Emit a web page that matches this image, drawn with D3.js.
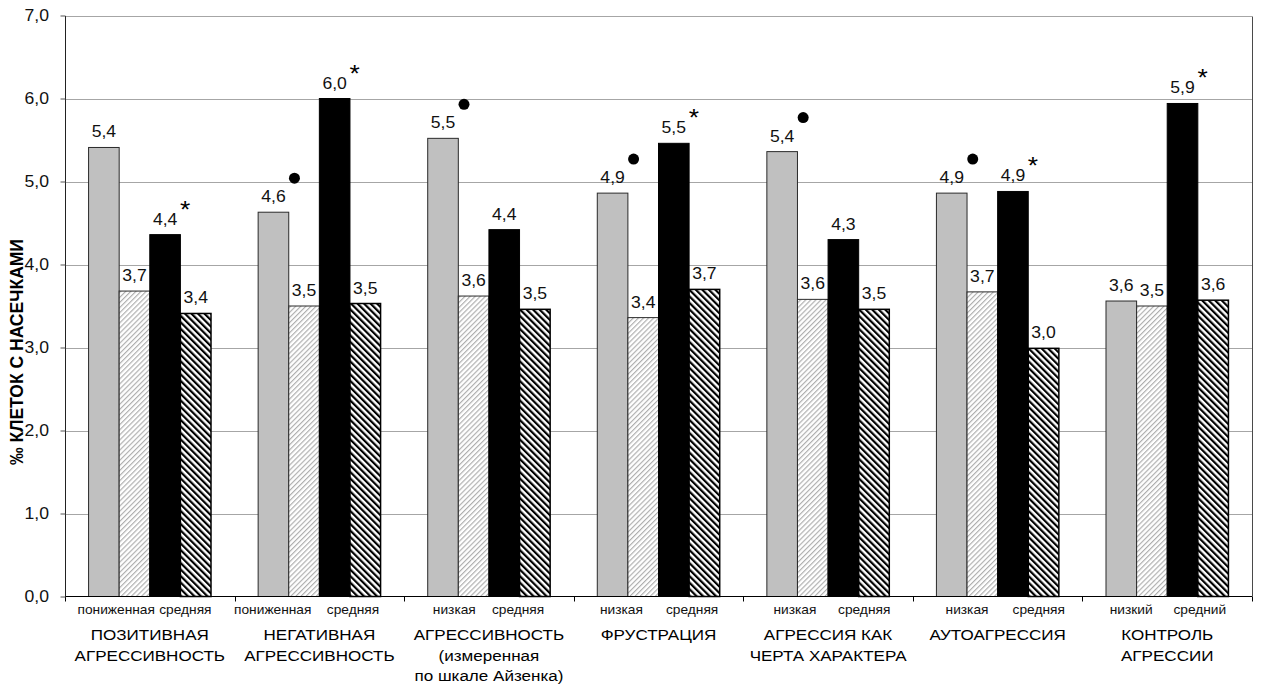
<!DOCTYPE html>
<html>
<head>
<meta charset="utf-8">
<script src="https://cdn.jsdelivr.net/npm/d3@7"></script>
<style>
  html, body { margin: 0; padding: 0; background: #fff; }
  svg { display: block; font-family: Arial, "Liberation Sans", sans-serif; }
</style>
</head>
<body>
<svg id="chart" width="1261" height="688"></svg>
<script>
// Category names (multi-line) along the x axis
const categories = [
  ["ПОЗИТИВНАЯ", "АГРЕССИВНОСТЬ"],
  ["НЕГАТИВНАЯ", "АГРЕССИВНОСТЬ"],
  ["АГРЕССИВНОСТЬ", "(измеренная", "по шкале Айзенка)"],
  ["ФРУСТРАЦИЯ"],
  ["АГРЕССИЯ КАК", "ЧЕРТА ХАРАКТЕРА"],
  ["АУТОАГРЕССИЯ"],
  ["КОНТРОЛЬ", "АГРЕССИИ"]
];
// Level captions under each pair of bars
const lowLevelLabels = ["пониженная", "пониженная", "низкая", "низкая", "низкая", "низкая", "низкий"];
const midLevelLabels = ["средняя", "средняя", "средняя", "средняя", "средняя", "средняя", "средний"];

// Four series per category
const seriesKeys = ["lowA", "lowB", "midA", "midB"];
const lowA = [5.41, 4.63, 5.52, 4.86, 5.36, 4.86, 3.56];
const lowB = [3.68, 3.50, 3.62, 3.36, 3.58, 3.67, 3.50];
const midA = [4.36, 6.00, 4.42, 5.46, 4.30, 4.88, 5.94];
const midB = [3.41, 3.53, 3.46, 3.70, 3.46, 2.99, 3.57];

// Significance marks: dot over the first bar, asterisk over the third bar
const dotMarks = [0, 1, 1, 1, 1, 1, 0];
const starMarks = [1, 1, 0, 1, 0, 1, 1];

// Y axis ticks
const yTicks = [0, 1, 2, 3, 4, 5, 6, 7];
const yTitle = "‰ КЛЕТОК С НАСЕЧКАМИ";

// Hand-set horizontal nudges (px) for the level captions
const lowCaptionNudge = [-3, -16, -4, -6.5, -2.5, 0, -5.5];
const midCaptionNudge = [5, 3, -1.5, 3, 5.5, 10.5, 2];

const seriesValues = { lowA, lowB, midA, midB };

const svg = d3.select("#chart");
const plot = { left: 65, right: 1252, top: 15.5, bottom: 596.5 };
const STRETCH = 1.1;

const defs = svg.append("defs");
// light diagonal hatch "/"
const pLight = defs.append("pattern")
  .attr("id", "hatchLight").attr("patternUnits", "userSpaceOnUse")
  .attr("width", 3.6).attr("height", 10)
  .attr("patternTransform", "rotate(45)");
pLight.append("rect").attr("width", 3.6).attr("height", 10).attr("fill", "#fff");
pLight.append("line").attr("x1", 0.6).attr("x2", 0.6).attr("y1", 0).attr("y2", 10)
  .attr("stroke", "#a9a9a9").attr("stroke-width", 1.1);
// dark diagonal hatch "\"
const pDark = defs.append("pattern")
  .attr("id", "hatchDark").attr("patternUnits", "userSpaceOnUse")
  .attr("width", 4.6).attr("height", 10)
  .attr("patternTransform", "rotate(-45)");
pDark.append("rect").attr("width", 4.6).attr("height", 10).attr("fill", "#fff");
pDark.append("line").attr("x1", 1.1).attr("x2", 1.1).attr("y1", 0).attr("y2", 10)
  .attr("stroke", "#000").attr("stroke-width", 2.2);

const seriesStyle = {
  lowA: { fill: "#c0c0c0", stroke: "#2a2a2a", sw: 1 },
  lowB: { fill: "url(#hatchLight)", stroke: "#2a2a2a", sw: 1 },
  midA: { fill: "#000", stroke: "#000", sw: 1 },
  midB: { fill: "url(#hatchDark)", stroke: "#000", sw: 1.5 }
};

const y = d3.scaleLinear().domain([0, 7]).range([plot.bottom, plot.top]);
const x0 = d3.scaleBand().domain(d3.range(categories.length))
  .range([plot.left, plot.right]).paddingInner(0).paddingOuter(0);
const x1 = d3.scaleBand().domain(seriesKeys)
  .range([0, x0.bandwidth()]).paddingInner(0).paddingOuter(0.77);

const fmt = v => d3.format(".1f")(v).replace(".", ",");

// gridlines
svg.append("g").selectAll("line").data(yTicks.filter(t => t > 0)).join("line")
  .attr("x1", plot.left).attr("x2", plot.right)
  .attr("y1", d => Math.round(y(d)) + 0.5).attr("y2", d => Math.round(y(d)) + 0.5)
  .attr("stroke", "#a6a6a6").attr("stroke-width", 1);

// right frame
svg.append("line")
  .attr("x1", plot.right + 0.5).attr("x2", plot.right + 0.5)
  .attr("y1", Math.round(y(7)) + 0.5).attr("y2", plot.bottom)
  .attr("stroke", "#4a4a4a").attr("stroke-width", 1);

// bars
const groups = svg.append("g").selectAll("g").data(categories).join("g")
  .attr("transform", (d, i) => `translate(${x0(i)},0)`);

groups.each(function (cat, gi) {
  const g = d3.select(this);
  seriesKeys.forEach(k => {
    const v = seriesValues[k][gi];
    const st = seriesStyle[k];
    g.append("rect")
      .attr("x", x1(k)).attr("width", x1.bandwidth())
      .attr("y", y(v)).attr("height", y(0) - y(v))
      .attr("fill", st.fill).attr("stroke", st.stroke).attr("stroke-width", st.sw);
    g.append("text")
      .attr("text-anchor", "middle")
      .attr("font-size", 16).attr("fill", "#111")
      .attr("transform", `translate(${x1(k) + x1.bandwidth() / 2},${y(v) - 10}) scale(${STRETCH},1)`)
      .text(fmt(v));
  });
  const cxA = x1("lowA") + x1.bandwidth() / 2;
  const cxC = x1("midA") + x1.bandwidth() / 2;
  if (dotMarks[gi]) {
    g.append("circle").attr("cx", cxA + 21).attr("cy", y(lowA[gi]) - 34).attr("r", 5.5).attr("fill", "#000");
  }
  if (starMarks[gi]) {
    g.append("text").attr("text-anchor", "middle").attr("font-size", 24).attr("fill", "#000")
      .attr("transform", `translate(${cxC + 20},${y(midA[gi]) - 31 + 14}) scale(${STRETCH},1)`)
      .text("*");
  }
  // level captions
  g.append("text").attr("text-anchor", "middle").attr("font-size", 12.5).attr("fill", "#111")
    .attr("transform", `translate(${x1("lowB") + lowCaptionNudge[gi]},614) scale(${STRETCH},1)`)
    .text(lowLevelLabels[gi]);
  g.append("text").attr("text-anchor", "middle").attr("font-size", 12.5).attr("fill", "#111")
    .attr("transform", `translate(${x1("midB") + midCaptionNudge[gi]},614) scale(${STRETCH},1)`)
    .text(midLevelLabels[gi]);
  // category name
  cat.forEach((line, li) => {
    g.append("text").attr("text-anchor", "middle").attr("font-size", 15.5).attr("fill", "#000")
      .attr("transform", `translate(${x0.bandwidth() / 2},${640 + li * 20.5}) scale(${STRETCH},1)`)
      .text(line);
  });
});

// x axis with boundary ticks
svg.append("line").attr("x1", plot.left).attr("x2", plot.right)
  .attr("y1", plot.bottom).attr("y2", plot.bottom).attr("stroke", "#000").attr("stroke-width", 1.2);
const bounds = d3.range(categories.length + 1).map(i => i < categories.length ? x0(i) : plot.right);
svg.append("g").selectAll("line").data(bounds).join("line")
  .attr("x1", d => Math.round(d) + 0.5).attr("x2", d => Math.round(d) + 0.5)
  .attr("y1", plot.bottom).attr("y2", plot.bottom + 5)
  .attr("stroke", "#000");

// y axis
const yAxis = svg.append("g").attr("transform", `translate(${plot.left + 0.5},0)`)
  .call(d3.axisLeft(y).tickValues(yTicks).tickSize(5).tickPadding(10).tickFormat(fmt));
yAxis.select(".domain").attr("stroke", "#222").attr("d", `M0,${plot.bottom}V${Math.round(y(7))}`);
yAxis.selectAll(".tick line").attr("stroke", "#555");
yAxis.selectAll(".tick text")
  .attr("font-size", 16).attr("font-family", "Arial, 'Liberation Sans', sans-serif").attr("fill", "#111")
  .attr("transform", `scale(${STRETCH},1)`);

// y title
svg.append("text")
  .attr("transform", `translate(23,352) rotate(-90)`)
  .attr("text-anchor", "middle").attr("font-size", 17.5).attr("font-weight", "bold").attr("fill", "#000")
  .text(yTitle);
</script>
</body>
</html>
